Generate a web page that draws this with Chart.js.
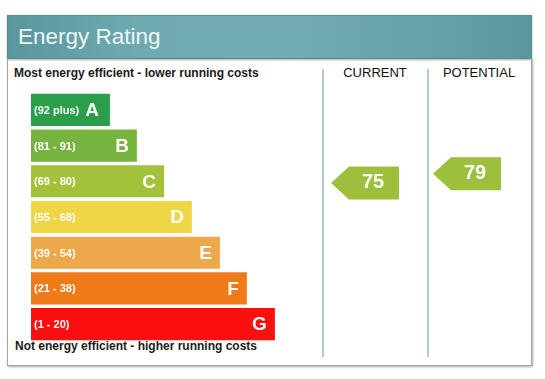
<!DOCTYPE html>
<html>
<head>
<meta charset="utf-8">
<script src="https://cdn.jsdelivr.net/npm/chart.js@4"></script>
<style>
  html, body { margin: 0; padding: 0; background: #fff; }
  body { width: 545px; height: 379px; position: relative; overflow: hidden; font-family: Arial, "Liberation Sans", sans-serif; }
  #header { position: absolute; left: 7px; top: 15px; width: 523px; height: 42px;
    background: linear-gradient(to right, #5a979d 0%, #6eabb0 25%, #70acb1 55%, #63a1a6 85%, #5a979c 100%);
    border: 1px solid #5b8e93; box-shadow: 0 1px 2px rgba(0,0,0,0.35); }
  #header span { position: absolute; left: 10px; top: 8px; font-size: 22.5px; line-height: 26px; color: #eef6f6; }
  #box { position: absolute; left: 7px; top: 58px; width: 523px; height: 307px; border: 1px solid #a5a5a5; border-top: none;
    box-shadow: 1px 1px 2px rgba(0,0,0,0.35); }
  .cap { position: absolute; font-size: 12px; font-weight: bold; line-height: 14px; color: #1a1a1a; white-space: nowrap; }
  .col { position: absolute; font-size: 13px; line-height: 15px; color: #111; text-align: center; width: 100px; }
  .vline { position: absolute; top: 69px; height: 288px; width: 2px; background: #b2cbd0; }
  canvas { position: absolute; left: 0; top: 0; }
</style>
</head>
<body>
<div id="header"><span>Energy Rating</span></div>
<div id="box"></div>
<div class="cap" style="left:14px; top:66px;">Most energy efficient - lower running costs</div>
<div class="cap" style="left:15px; top:339px;">Not energy efficient - higher running costs</div>
<div class="col" style="left:325px; top:65px;">CURRENT</div>
<div class="col" style="left:429px; top:65px;">POTENTIAL</div>
<div class="vline" style="left:322px;"></div>
<div class="vline" style="left:427px;"></div>
<canvas id="c" width="545" height="379"></canvas>
<script>
// ---- data ----
const bandLetters = ["A", "B", "C", "D", "E", "F", "G"];
const bandRanges = ["(92 plus)", "(81 - 91)", "(69 - 80)", "(55 - 68)", "(39 - 54)", "(21 - 38)", "(1 - 20)"];
const barLengths = [2.87, 3.85, 4.84, 5.85, 6.87, 7.85, 8.87];
const bandColors = ["#2a9e48", "#77b43f", "#a2c23c", "#efd646", "#eda84c", "#ee7a18", "#fd0f0f"];
const ratingColumns = ["CURRENT", "POTENTIAL"];
const ratingValues = [75, 79];
const ratingColors = ["#9ebf3b", "#9ebf3b"];

// layout (not data): left tip of each column's arrow
const arrowTipX = [331, 433];

const labelPlugin = {
  id: 'epcLabels',
  afterDatasetsDraw(chart) {
    const ctx = chart.ctx;
    const meta = chart.getDatasetMeta(0);
    ctx.save();
    meta.data.forEach((bar, i) => {
      const left = bar.base;
      ctx.fillStyle = '#ffffff';
      ctx.textBaseline = 'middle';
      ctx.font = 'bold 11px Arial, "Liberation Sans", sans-serif';
      ctx.textAlign = 'left';
      ctx.fillText(bandRanges[i], left + 3, bar.y + 1);
      ctx.font = 'bold 19px Arial, "Liberation Sans", sans-serif';
      ctx.textAlign = 'right';
      ctx.fillText(bandLetters[i], bar.x - (i === 0 ? 11 : 8), bar.y + 1);
    });
    // rating arrows
    const ys = chart.scales.yv;
    ratingValues.forEach((v, k) => {
      const yc = ys.getPixelForValue(v);
      const h = 33, half = h / 2;
      const tip = arrowTipX[k];
      const bodyL = tip + 18, bodyR = tip + 68;
      ctx.beginPath();
      ctx.moveTo(tip, yc);
      ctx.lineTo(bodyL, yc - half);
      ctx.lineTo(bodyR, yc - half);
      ctx.lineTo(bodyR, yc + half);
      ctx.lineTo(bodyL, yc + half);
      ctx.closePath();
      ctx.fillStyle = ratingColors[k];
      ctx.fill();
      ctx.fillStyle = '#ffffff';
      ctx.font = 'bold 20px Arial, "Liberation Sans", sans-serif';
      ctx.textAlign = 'center';
      ctx.textBaseline = 'middle';
      ctx.fillText(String(v), (bodyL + bodyR) / 2 - 1, yc);
    });
    ctx.restore();
  }
};

new Chart(document.getElementById('c'), {
  type: 'bar',
  data: {
    labels: bandLetters,
    datasets: [{
      data: barLengths,
      backgroundColor: bandColors,
      borderWidth: 0,
      barPercentage: 0.9,
      categoryPercentage: 1.0,
      yAxisID: 'y'
    }]
  },
  options: {
    indexAxis: 'y',
    responsive: false,
    animation: false,
    events: [],
    layout: { padding: { left: 31, right: 13, top: 92, bottom: 37 } },
    plugins: { legend: { display: false }, tooltip: { enabled: false } },
    scales: {
      x: { display: false, min: 0, max: 18.22 },
      y: { display: false, offset: true },
      yv: { type: 'linear', axis: 'y', display: false, min: 10, max: 110 }
    }
  },
  plugins: [labelPlugin]
});
</script>
</body>
</html>
